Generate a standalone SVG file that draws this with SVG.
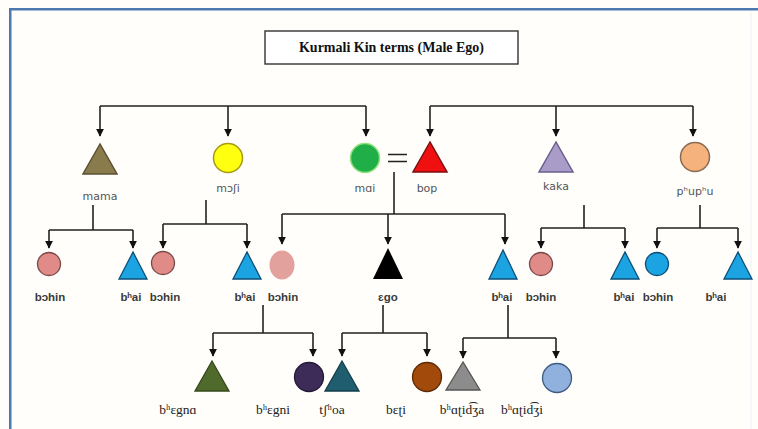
<svg xmlns="http://www.w3.org/2000/svg" width="758" height="429" viewBox="0 0 758 429">
<defs>
<marker id="ah" viewBox="0 0 10 10" refX="9" refY="5" markerWidth="8" markerHeight="8" markerUnits="userSpaceOnUse" orient="auto">
<path d="M0,0 L10,5 L0,10 z" fill="#111"/>
</marker>
<style>
.ln{fill:none;stroke:#222;stroke-width:1.6}
.ar{fill:none;stroke:#222;stroke-width:1.6;marker-end:url(#ah)}
.t1{font-family:"DejaVu Sans",Verdana,sans-serif;font-size:11px;fill:#555;text-anchor:middle}
.t2{font-family:"Liberation Sans",Arial,sans-serif;font-size:11.5px;font-weight:bold;fill:#3a3a3a;text-anchor:middle}
.t3{font-family:"Liberation Serif","DejaVu Serif",serif;font-size:13.5px;fill:#222;text-anchor:middle}
.title{font-family:"Liberation Serif","Times New Roman",serif;font-size:14px;font-weight:bold;fill:#111;text-anchor:middle}
</style>
</defs>
<rect x="0" y="0" width="758" height="429" fill="#fffefb"/>
<rect x="9" y="8" width="749" height="2.5" fill="#4d79b0"/>
<rect x="9" y="8" width="2.5" height="421" fill="#4d79b0"/>
<line x1="751" y1="12" x2="751" y2="429" stroke="#eef2f6" stroke-width="1"/>

<g id="title">
<rect x="265" y="31" width="253" height="33" fill="#fff" stroke="#333" stroke-width="1.4"/>
<text class="title" x="391.5" y="52">Kurmali Kin terms (Male Ego)</text>
</g>

<g id="connectors">
<path class="ln" d="M100,106 H366"/>
<path class="ar" d="M100,106 V136"/>
<path class="ar" d="M228,106 V136"/>
<path class="ar" d="M366,106 V136"/>
<path class="ln" d="M430,106 H693"/>
<path class="ar" d="M430,106 V136"/>
<path class="ar" d="M556,106 V136"/>
<path class="ar" d="M693,106 V136"/>
<path class="ln" d="M388,154.5 H407 M388,161.5 H407"/>
<path class="ln" d="M394,172 V214"/>
<path class="ln" d="M282,214 H505"/>
<path class="ar" d="M282,214 V244"/>
<path class="ar" d="M388,214 V244"/>
<path class="ar" d="M505,214 V244"/>
<path class="ln" d="M93,205 V230 M49,230 H133"/>
<path class="ar" d="M49,230 V248"/>
<path class="ar" d="M133,230 V248"/>
<path class="ln" d="M206,200 V224 M163,224 H247"/>
<path class="ar" d="M163,224 V248"/>
<path class="ar" d="M247,224 V248"/>
<path class="ln" d="M584,205 V228 M541,228 H625"/>
<path class="ar" d="M541,228 V248"/>
<path class="ar" d="M625,228 V248"/>
<path class="ln" d="M700,205 V228 M657,228 H738"/>
<path class="ar" d="M657,228 V248"/>
<path class="ar" d="M738,228 V248"/>
<path class="ln" d="M263,305 V333 M213,333 H313"/>
<path class="ar" d="M213,333 V356"/>
<path class="ar" d="M313,333 V356"/>
<path class="ln" d="M383,305 V333 M342,333 H427"/>
<path class="ar" d="M342,333 V356"/>
<path class="ar" d="M427,333 V356"/>
<path class="ln" d="M508,305 V338 M463,338 H556"/>
<path class="ar" d="M463,338 V358"/>
<path class="ar" d="M556,338 V358"/>
</g>

<g id="mama"><polygon points="100,144 83,174 117,174" fill="#8a7b4c" stroke="#5b5132" stroke-width="1.5"/><text class="t1" x="100" y="200">mama</text></g>
<g id="moshi"><circle cx="228" cy="158" r="14.5" fill="#ffff10" stroke="#a89a10" stroke-width="1.5"/><text class="t1" x="228" y="192">mɔʃi</text></g>
<g id="mai"><circle cx="365" cy="158" r="14.5" fill="#1fae48" stroke="#8fe07a" stroke-width="1.5"/><text class="t1" x="365" y="192">mɑi</text></g>
<g id="bop"><polygon points="430,142 413,172 447,172" fill="#f01010" stroke="#7a1010" stroke-width="1.5"/><text class="t1" x="427" y="192">bop</text></g>
<g id="kaka"><polygon points="556,142 539,172 573,172" fill="#a99cc9" stroke="#6a6090" stroke-width="1.5"/><text class="t1" x="556" y="190">kaka</text></g>
<g id="phuphu"><circle cx="695" cy="157" r="14.5" fill="#f5b27c" stroke="#8a6a52" stroke-width="1.5"/><text class="t1" x="695" y="195">pʰupʰu</text></g>

<g id="bohin1"><circle cx="49" cy="264" r="11.5" fill="#e08b88" stroke="#7a4a48" stroke-width="1.3"/><text class="t2" x="50" y="301">bɔhin</text></g>
<g id="bhai1"><polygon points="133,252 119,279 147,279" fill="#1ca4e2" stroke="#0b4f78" stroke-width="1.3"/><text class="t2" x="131" y="301">bʰai</text></g>
<g id="bohin2"><circle cx="163" cy="263" r="11.5" fill="#e08b88" stroke="#7a4a48" stroke-width="1.3"/><text class="t2" x="165" y="301">bɔhin</text></g>
<g id="bhai2"><polygon points="247,252 233,279 261,279" fill="#1ca4e2" stroke="#0b4f78" stroke-width="1.3"/><text class="t2" x="245" y="301">bʰai</text></g>
<g id="bohin3"><ellipse cx="282" cy="265" rx="12.5" ry="14.5" fill="#e2a19d"/><text class="t2" x="283" y="301">bɔhin</text></g>
<g id="ego"><polygon points="388,248 373,279 403,279" fill="#000"/><text class="t2" x="388" y="301">ɛgo</text></g>
<g id="bhai3"><polygon points="503,250 489,279 517,279" fill="#1ca4e2" stroke="#0b4f78" stroke-width="1.3"/><text class="t2" x="502" y="301">bʰai</text></g>
<g id="bohin4"><circle cx="541" cy="264" r="11.5" fill="#e08b88" stroke="#7a4a48" stroke-width="1.3"/><text class="t2" x="541" y="301">bɔhin</text></g>
<g id="bhai4"><polygon points="625,252 611,279 639,279" fill="#1ca4e2" stroke="#0b4f78" stroke-width="1.3"/><text class="t2" x="624" y="301">bʰai</text></g>
<g id="bohin5"><circle cx="657" cy="264" r="11.5" fill="#1ca4e2" stroke="#0b4f78" stroke-width="1.3"/><text class="t2" x="658" y="301">bɔhin</text></g>
<g id="bhai5"><polygon points="738,252 724,279 752,279" fill="#1ca4e2" stroke="#0b4f78" stroke-width="1.3"/><text class="t2" x="716" y="301">bʰai</text></g>

<g id="bhegna"><polygon points="212,361 195,391 229,391" fill="#4f6a2b" stroke="#34481c" stroke-width="1.3"/><text class="t3" x="178" y="414">bʰɛgnɑ</text></g>
<g id="bhegni"><circle cx="309" cy="377" r="14.5" fill="#3d2c58" stroke="#241a38" stroke-width="1.3"/><text class="t3" x="273" y="414">bʰɛgni</text></g>
<g id="tshoa"><polygon points="342,361 325,391 359,391" fill="#1f5e6e" stroke="#143e4a" stroke-width="1.3"/><text class="t3" x="332" y="414">tʃʰoa</text></g>
<g id="beti"><circle cx="427" cy="377" r="14.5" fill="#a14a0b" stroke="#5e2a06" stroke-width="1.3"/><text class="t3" x="396" y="414">bɛʈi</text></g>
<g id="bhatidza"><polygon points="463,362 446,390 480,390" fill="#8c8c8c" stroke="#555" stroke-width="1.3"/><text class="t3" x="462" y="414">bʰɑʈid͡ʒa</text></g>
<g id="bhatidzi"><circle cx="557" cy="378" r="14.5" fill="#90b1dd" stroke="#3d5a80" stroke-width="1.3"/><text class="t3" x="522" y="414">bʰɑʈid͡ʒi</text></g>
</svg>
